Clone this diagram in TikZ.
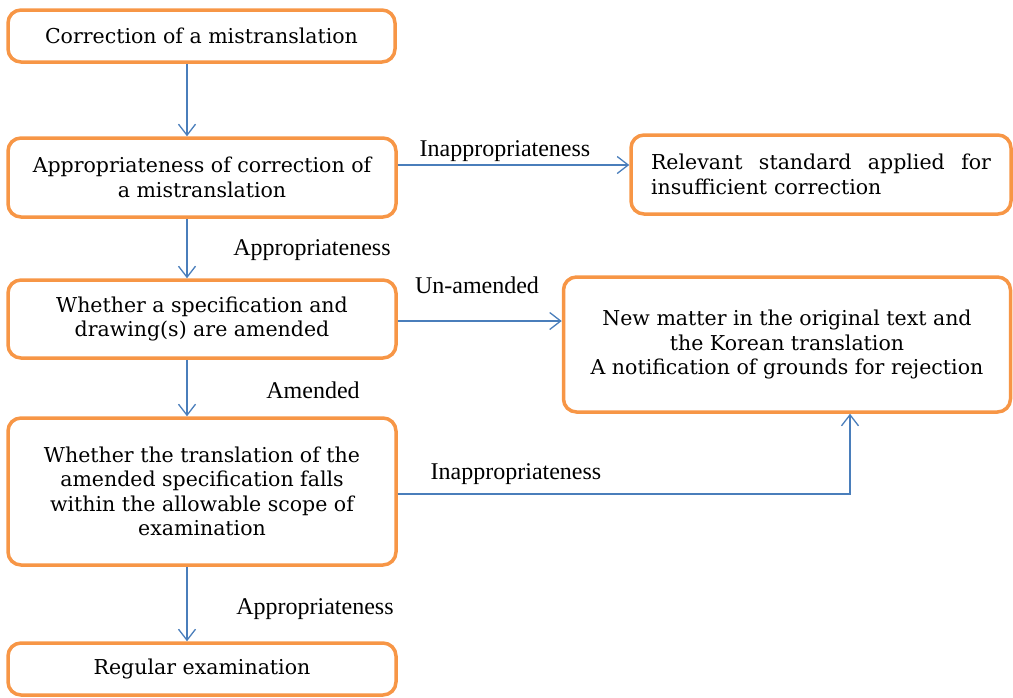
\documentclass[tikz,border=0pt]{standalone}
\usepackage{fontspec}
\setmainfont{DejaVu Serif}
\newfontfamily\labfont{Liberation Serif}
\usetikzlibrary{arrows.meta}
\definecolor{boxorange}{HTML}{F79646}
\definecolor{arrowblue}{HTML}{4A7EBB}
\begin{document}
\begin{tikzpicture}[x=1pt,y=-1pt,
  box/.style={draw=boxorange, line width=3.5pt, rounded corners=13pt, fill=white,
    align=center, inner sep=0pt, font=\fontsize{20.5}{24.5}\selectfont},
  conn/.style={draw=arrowblue, line width=1.3pt, -{Straight Barb[length=11pt,width=17pt,line width=1.3pt]}},
  lab/.style={font=\labfont\fontsize{24}{26}\selectfont, inner sep=0pt}
]
\useasboundingbox (0,0) rectangle (1013,697);
\node[box, minimum width=387, minimum height=52] (b1) at (201.5,36) {Correction of a mistranslation};
\node[box, minimum width=388, minimum height=79] (b2) at (202,177.5) {Appropriateness of correction of\\a mistranslation};
\node[box, minimum width=380, minimum height=79, text width=340, align=left] (b3) at (821,174.5) {Relevant\hfill standard\hfill applied\hfill for\\insufficient correction};
\node[box, minimum width=388, minimum height=78] (b4) at (202,319) {Whether a specification and\\drawing(s) are amended};
\node[box, minimum width=447, minimum height=135] (b5) at (787,344.5) {New matter in the original text and\\the Korean translation\\A notification of grounds for rejection};
\node[box, minimum width=388, minimum height=147] (b6) at (202,491.5) {Whether the translation of the\\amended specification falls\\within the allowable scope of\\examination};
\node[box, minimum width=388, minimum height=52] (b7) at (202,669) {Regular examination};
\coordinate (c1) at (850,494);
\draw[conn] (b1.south -| 187,0) -- (b2.north -| 187,0);
\draw[conn] (b2.south -| 187,0) -- (b4.north -| 187,0);
\draw[conn] (b4.south -| 187,0) -- (b6.north -| 187,0);
\draw[conn] (b6.south -| 187,0) -- (b7.north -| 187,0);
\draw[conn] (b2.east |- 0,165) -- (b3.west |- 0,165);
\draw[conn] (b4.east |- 0,321) -- (b5.west |- 0,321);
\draw[conn] (b6.east |- c1) -- (c1) -- (b5.south -| c1);
\node[lab] (l1) at (505,151) {Inappropriateness};
\node[lab] (l2) at (312,250) {Appropriateness};
\node[lab] (l3) at (477,285) {Un-amended};
\node[lab] (l4) at (313,390) {Amended};
\node[lab] (l5) at (516,474) {Inappropriateness};
\node[lab] (l6) at (315,609) {Appropriateness};
\end{tikzpicture}
\end{document}
